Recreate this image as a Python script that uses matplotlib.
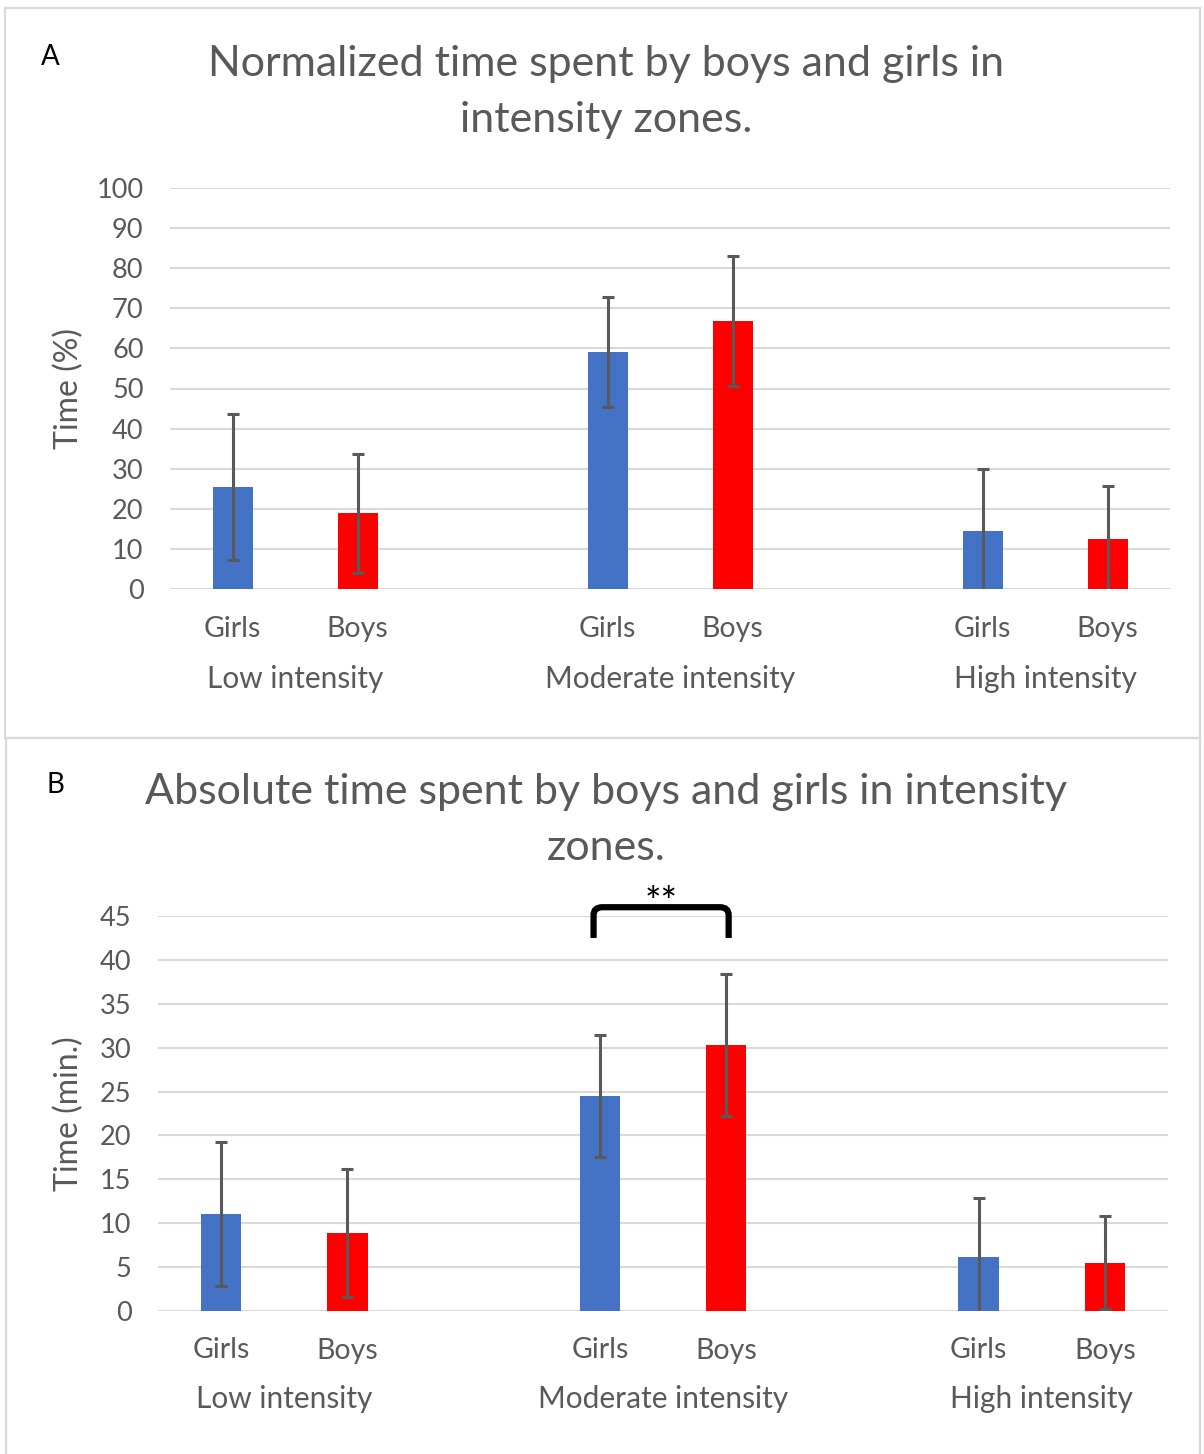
import numpy as np
import matplotlib.pyplot as plt
from matplotlib.path import Path
from matplotlib.patches import PathPatch, Rectangle

plt.rcParams['font.family'] = ['Lato', 'DejaVu Sans']

# intensity zones and sexes
groups = ["Low intensity", "Moderate intensity", "High intensity"]
sexes = ["Girls", "Boys"]

# normalized time (%) - mean and SD
norm_girls = [25.5, 59.2, 14.5]
norm_girls_sd = [18.2, 13.7, 15.5]
norm_boys = [18.9, 66.8, 12.5]
norm_boys_sd = [14.8, 16.2, 13.3]

# absolute time (min.) - mean and SD
abs_girls = [11.0, 24.5, 6.1]
abs_girls_sd = [8.2, 6.9, 6.8]
abs_boys = [8.9, 30.3, 5.5]
abs_boys_sd = [7.3, 8.1, 5.3]

W, H = 1204, 1454
GREY = "#595959"
GRID = "#d9d9d9"
BLUE = "#4472C4"
RED = "#FF0000"

fig = plt.figure(figsize=(W / 100, H / 100), dpi=100)

# panel frames
fig.patches.append(Rectangle((5 / W, 1 - 738 / H), 1195 / W, 730 / H, transform=fig.transFigure,
                             fill=False, edgecolor=GRID, lw=1.6))
fig.patches.append(Rectangle((6 / W, -0.01), 1194 / W, 1 - 738 / H + 0.01, transform=fig.transFigure,
                             fill=False, edgecolor=GRID, lw=1.6))


def panel(rect, girls, girls_sd, boys, boys_sd, ymax, ystep, ylabel, label_x):
    l, t, r, b = rect
    ax = fig.add_axes([l / W, 1 - b / H, (r - l) / W, (b - t) / H])
    x_g = np.arange(len(groups)) * 3
    x_b = x_g + 1
    err_kw = dict(ecolor=GREY, elinewidth=2.2, capsize=4.5, capthick=2.2)
    ax.bar(x_g, girls, width=0.32, color=BLUE, yerr=girls_sd, error_kw=err_kw, zorder=3)
    ax.bar(x_b, boys, width=0.32, color=RED, yerr=boys_sd, error_kw=err_kw, zorder=3)
    ax.set_xlim(-0.5, 7.5)
    ax.set_ylim(0, ymax)
    ax.set_yticks(np.arange(0, ymax + 1, ystep))
    ax.yaxis.grid(True, color=GRID, lw=1.5, zorder=0)
    ax.set_axisbelow(True)
    for s in ax.spines.values():
        s.set_visible(False)
    ax.tick_params(axis='y', length=0, pad=19, labelsize=19.5, labelcolor=GREY)
    ax.set_xticks([])
    tr = ax.get_xaxis_transform()
    for i, g in enumerate(groups):
        ax.text(x_g[i], -0.1, sexes[0], transform=tr, ha='center', va='center', fontsize=20.5, color=GREY)
        ax.text(x_b[i], -0.1, sexes[1], transform=tr, ha='center', va='center', fontsize=20.5, color=GREY)
        ax.text(x_g[i] + 0.5, -0.224, g, transform=tr, ha='center', va='center', fontsize=21.5, color=GREY)
    ax.set_ylabel(ylabel, fontsize=23, color=GREY)
    ax.yaxis.set_label_coords(label_x, 0.5)
    return ax


ax_a = panel((170, 188, 1170, 589), norm_girls, norm_girls_sd, norm_boys, norm_boys_sd,
             100, 10, "Time (%)", -0.086)
ax_b = panel((158, 916, 1168, 1311), abs_girls, abs_girls_sd, abs_boys, abs_boys_sd,
             45, 5, "Time (min.)", -0.073)

fig.text(606 / W, 1 - 92 / H, "Normalized time spent by boys and girls in\nintensity zones.",
         ha='center', va='center', fontsize=31, color=GREY, linespacing=1.55)
fig.text(606 / W, 1 - 820 / H, "Absolute time spent by boys and girls in intensity\nzones.",
         ha='center', va='center', fontsize=31, color=GREY, linespacing=1.55)
fig.text(50 / W, 1 - 57 / H, "A", ha='center', va='center', fontsize=20, color='black')
fig.text(55 / W, 1 - 785 / H, "B", ha='center', va='center', fontsize=20, color='black')

# significance bracket between girls and boys, moderate intensity
x0, x1 = 2.95, 4.02
y0, y1, rad = 42.5, 46.0, 0.07
verts = [(x0, y0), (x0, y1 - 0.9), (x0, y1), (x0 + rad, y1), (x1 - rad, y1),
         (x1, y1), (x1, y1 - 0.9), (x1, y0)]
codes = [Path.MOVETO, Path.LINETO, Path.CURVE3, Path.CURVE3, Path.LINETO,
         Path.CURVE3, Path.CURVE3, Path.LINETO]
ax_b.add_patch(PathPatch(Path(verts, codes), fill=False, edgecolor='black', lw=4.5,
                         capstyle='butt', clip_on=False, zorder=5))
ax_b.text((x0 + x1) / 2, 46.4, "**", ha='center', va='center', fontsize=28, color='black',
          clip_on=False)

plt.savefig("out.png", dpi=100)
plt.close()
